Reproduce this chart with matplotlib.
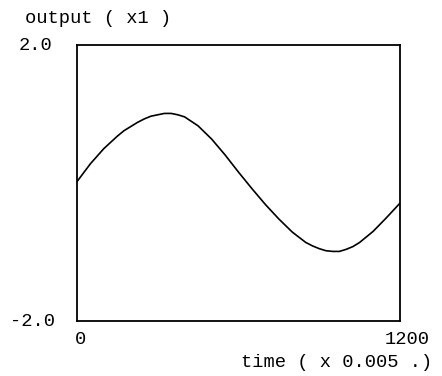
import matplotlib.pyplot as plt

# valores
tiempo = [0, 25, 50, 75, 100, 125, 150, 175, 200, 225, 250, 275, 300, 325,
          350, 375, 400, 450, 500, 550, 600, 650, 700, 750, 800, 850, 875,
          900, 925, 950, 975, 1000, 1025, 1050, 1100, 1150, 1200]
salida = [0.02, 0.15, 0.28, 0.39, 0.50, 0.59, 0.68, 0.76, 0.82, 0.88, 0.93,
          0.97, 0.99, 1.01, 1.01, 0.99, 0.96, 0.83, 0.64, 0.41, 0.16, -0.08,
          -0.31, -0.52, -0.71, -0.86, -0.91, -0.95, -0.98, -0.99, -0.99,
          -0.96, -0.92, -0.86, -0.70, -0.50, -0.29]

fuente = 'Liberation Mono'

fig = plt.figure(figsize=(4.42, 3.76), dpi=100)
ax = fig.add_axes([0.174, 0.146, 0.731, 0.734])

ax.plot(tiempo, salida, color='black', linewidth=1.2)

ax.set_xlim(0, 1200)
ax.set_ylim(-2.0, 2.0)
ax.set_xticks([])
ax.set_yticks([])
for s in ax.spines.values():
    s.set_linewidth(1.3)

# etiquetas de los ejes
ax.text(-0.077, 1.0, '2.0', transform=ax.transAxes, ha='right', va='center',
        fontsize=13.5, family=fuente)
ax.text(-0.068, 0.0, '-2.0', transform=ax.transAxes, ha='right', va='center',
        fontsize=13.5, family=fuente)
ax.text(0.01, -0.035, '0', transform=ax.transAxes, ha='center', va='top',
        fontsize=13.5, family=fuente)
ax.text(1.093, -0.035, '1200', transform=ax.transAxes, ha='right', va='top',
        fontsize=13.5, family=fuente)
ax.text(1.099, -0.12, 'time ( x 0.005 .)', transform=ax.transAxes, ha='right',
        va='top', fontsize=13.5, family=fuente)
ax.text(-0.161, 1.065, 'output ( x1 )', transform=ax.transAxes, ha='left',
        va='bottom', fontsize=13.5, family=fuente)

fig.savefig('out.png', dpi=100)
